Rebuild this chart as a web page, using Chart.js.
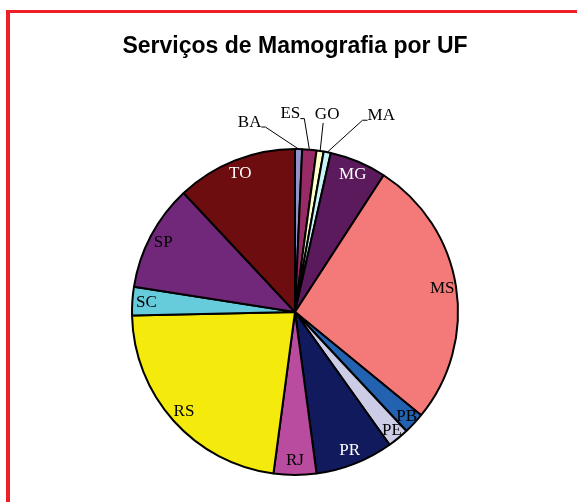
<!DOCTYPE html>
<html><head><meta charset="utf-8">
<script src="https://cdn.jsdelivr.net/npm/chart.js@4.4.0/dist/chart.umd.min.js"></script>
<style>
html,body{margin:0;padding:0;background:#fff;overflow:hidden;}
#frame{position:absolute;left:6px;top:10px;width:620px;height:620px;border-left:4px solid #ee1f26;border-top:3.5px solid #ee1f26;box-sizing:border-box;}
#wrap{position:absolute;left:0;top:0;width:577px;height:502px;}
</style></head><body>
<div id="frame"></div>
<div id="wrap"><canvas id="c"></canvas></div>
<script>
// Data
const categories = ['BA','ES','GO','MA','MG','MS','PB','PE','PR','RJ','RS','SC','SP','TO'];
const services = [1, 2, 1, 1, 8, 38, 3, 3, 11, 6, 32, 4, 15, 17];
const chartTitle = 'Serviços de Mamografia por UF';

// Styles
const sliceColors = ['#9393c9','#982a66','#ffffc8','#c8f4f8','#5a1a5c','#f47a7a','#2262b0','#cccce6','#111a5c','#b94c9e','#f4ea0c','#66cbdb','#72287a','#6d0d0f'];
const labelColors = ['#000','#000','#000','#000','#fff','#000','#000','#000','#fff','#000','#000','#000','#000','#fff'];

const labelPlugin = {
  id: 'sliceLabels',
  afterDatasetsDraw(chart, args, opts) {
    const ctx = chart.ctx;
    const meta = chart.getDatasetMeta(0);
    ctx.save();
    ctx.font = opts.font;
    ctx.textAlign = 'center';
    ctx.textBaseline = 'middle';
    meta.data.forEach((arc, i) => {
      const p = arc.getProps(['x','y','startAngle','endAngle','outerRadius'], true);
      const mid = (p.startAngle + p.endAngle) / 2;
      const text = chart.data.labels[i];
      const shift = opts.outside[i];
      if (shift) {
        const ex = p.x + Math.cos(mid) * p.outerRadius;
        const ey = p.y + Math.sin(mid) * p.outerRadius;
        const lx = ex + shift[0], ly = ey + shift[1];
        ctx.fillStyle = '#000';
        ctx.fillText(text, lx, ly);
        const w = ctx.measureText(text).width;
        ctx.beginPath();
        ctx.strokeStyle = '#000';
        ctx.lineWidth = 1;
        if (Math.abs(shift[0]) < 15) {
          ctx.moveTo(lx - 4, ly + 8);
        } else if (shift[0] < 0) {
          ctx.moveTo(lx + w / 2, ly + 5);
          ctx.lineTo(lx + w / 2 + 4, ly + 5);
        } else {
          ctx.moveTo(lx - w / 2, ly + 5);
          ctx.lineTo(lx - w / 2 - 5, ly + 5);
        }
        ctx.lineTo(ex, ey);
        ctx.stroke();
      } else {
        const inset = opts.insetOverride[i] !== undefined ? opts.insetOverride[i] : opts.inset;
        const r = p.outerRadius - inset;
        ctx.fillStyle = labelColors[i];
        ctx.fillText(text, p.x + Math.cos(mid) * r, p.y + Math.sin(mid) * r);
      }
    });
    ctx.restore();
  }
};

new Chart(document.getElementById('c'), {
  type: 'pie',
  data: {
    labels: categories,
    datasets: [{
      data: services,
      backgroundColor: sliceColors,
      borderColor: '#000',
      borderWidth: 2,
      radius: 163,
      clip: false
    }]
  },
  options: {
    responsive: true,
    maintainAspectRatio: false,
    animation: false,
    events: [],
    layout: { padding: { left: 110, right: 97, top: 0, bottom: 0 } },
    plugins: {
      legend: { display: false },
      tooltip: { enabled: false },
      title: {
        display: true,
        text: chartTitle,
        align: 'center',
        color: '#000',
        font: { family: '"Liberation Sans", Arial, sans-serif', size: 23, weight: 'bold' },
        padding: { top: 33, bottom: 61.4 }
      },
      sliceLabels: {
        font: '17px "Liberation Serif", "Times New Roman", serif',
        inset: 14,
        insetOverride: { 6: 10, 7: 10 },
        outside: { 0: [-49, -27], 1: [-19, -36], 2: [7, -36], 3: [54, -37] }
      }
    }
  },
  plugins: [labelPlugin]
});
</script>
</body></html>
